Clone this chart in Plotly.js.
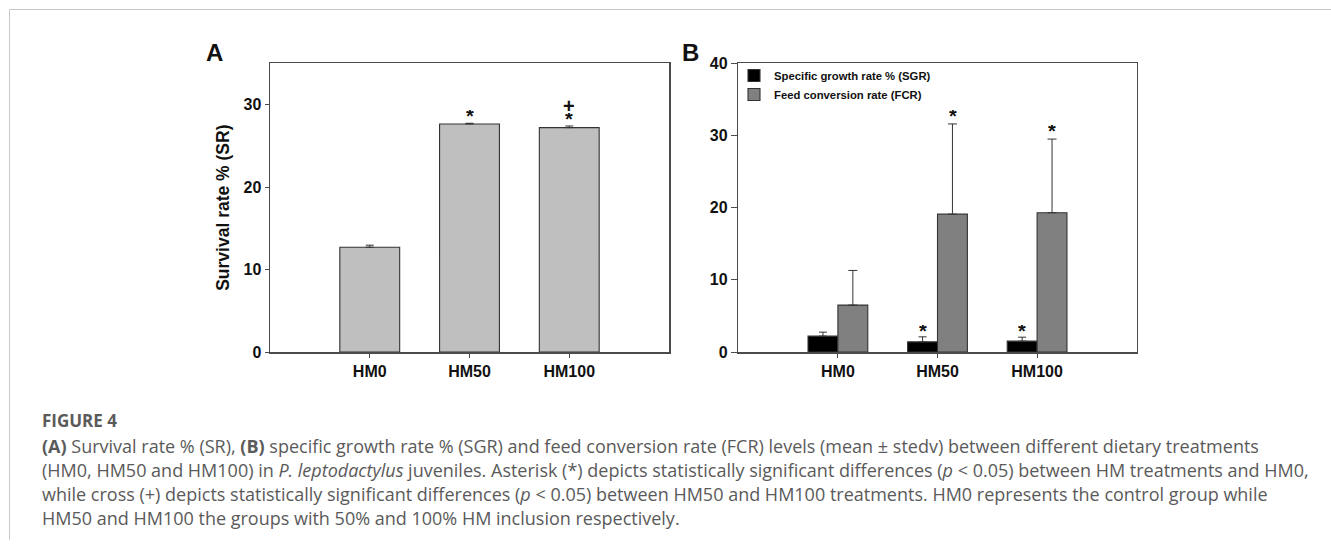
<!DOCTYPE html>
<html><head><meta charset="utf-8">
<script src="https://cdn.plot.ly/plotly-3.0.1.min.js"></script>
<style>html,body{margin:0;padding:0;background:#fff;}#chart{width:1331px;height:544px;}</style>
</head><body><div id="chart"></div>
<script>
// ---- data ----
const categories = ['HM0', 'HM50', 'HM100'];
const srMean = [12.7, 27.65, 27.2];
const srSd = [0.25, 0.08, 0.2];
const sgrMean = [2.2, 1.4, 1.5];
const sgrSd = [0.55, 0.7, 0.55];
const fcrMean = [6.5, 19.1, 19.3];
const fcrSd = [4.8, 12.5, 10.2];
const srStar = ['', '*', '*'];
const srCross = ['', '', '+'];
const sgrStar = ['', '*', '*'];
const fcrStar = ['', '*', '*'];
const yTicksA = [0, 10, 20, 30];
const yTicksB = [0, 10, 20, 30, 40];
const captionLines = [
  '<b>(A)</b> Survival rate % (SR), <b>(B)</b> specific growth rate % (SGR) and feed conversion rate (FCR) levels (mean ± stedv) between different dietary treatments',
  '(HM0, HM50 and HM100) in <i>P. leptodactylus</i> juveniles. Asterisk (*) depicts statistically significant differences (<i>p</i> &lt; 0.05) between HM treatments and HM0,',
  'while cross (+) depicts statistically significant differences (<i>p</i> &lt; 0.05) between HM50 and HM100 treatments. HM0 represents the control group while',
  'HM50 and HM100 the groups with 50% and 100% HM inclusion respectively.'
];

// ---- layout helpers ----
const W = 1331, H = 544;
const px = v => v / W;
const py = v => 1 - v / H;
const ARIAL = 'Arial, "Liberation Sans", sans-serif';
const CAP = '"Open Sans", "Noto Sans", sans-serif';
const lineCol = '#4a4a4a';
const barLine = {color: '#333', width: 1.1};

const traces = [
  {type: 'bar', x: categories, y: srMean, xaxis: 'x', yaxis: 'y', showlegend: false,
   marker: {color: '#bfbfbf', line: barLine},
   error_y: {type: 'data', symmetric: false, array: srSd, arrayminus: srSd.map(() => 0), color: '#333', thickness: 1, width: 4}},
  {type: 'bar', name: 'Specific growth rate % (SGR)', x: categories, y: sgrMean, xaxis: 'x2', yaxis: 'y2',
   marker: {color: '#000000', line: barLine},
   error_y: {type: 'data', symmetric: false, array: sgrSd, arrayminus: sgrSd.map(() => 0), color: '#333', thickness: 1, width: 4}},
  {type: 'bar', name: 'Feed conversion rate (FCR)', x: categories, y: fcrMean, xaxis: 'x2', yaxis: 'y2',
   marker: {color: '#808080', line: barLine},
   error_y: {type: 'data', symmetric: false, array: fcrSd, arrayminus: fcrSd.map(() => 0), color: '#333', thickness: 1, width: 4.5}}
];

const tickFont = {family: ARIAL, size: 16, color: '#111', weight: 'bold'};
const annotations = [];
const markFont = {family: ARIAL, size: 20, color: '#111', weight: 'bold'};
const mark = (xref, yref, x, y, text, yshift, xshift) => ({xref, yref, x, y, text, showarrow: false,
  yanchor: 'middle', yshift, xshift: xshift || 0, height: 12, borderpad: 0, font: markFont});
categories.forEach((c, i) => {
  if (srStar[i]) annotations.push(mark('x', 'y', c, srMean[i] + srSd[i], srStar[i], 7));
  if (srCross[i]) annotations.push(mark('x', 'y', c, srMean[i] + srSd[i], srCross[i], 20));
  if (sgrStar[i]) annotations.push(mark('x2', 'y2', c, sgrMean[i] + sgrSd[i], sgrStar[i], 6, -15));
  if (fcrStar[i]) annotations.push(mark('x2', 'y2', c, fcrMean[i] + fcrSd[i], fcrStar[i], 8, 15));
});
annotations.push({xref: 'paper', yref: 'paper', x: px(214), y: py(53), text: '<b>A</b>', showarrow: false, xanchor: 'center', yanchor: 'middle', font: {family: ARIAL, size: 24, color: '#111'}});
annotations.push({xref: 'paper', yref: 'paper', x: px(690), y: py(52), text: '<b>B</b>', showarrow: false, xanchor: 'center', yanchor: 'middle', font: {family: ARIAL, size: 24, color: '#111'}});
annotations.push({xref: 'paper', yref: 'paper', x: px(40), y: py(420), text: '<b>FIGURE 4</b>', showarrow: false, xanchor: 'left', yanchor: 'middle', font: {family: CAP, size: 17, color: '#5a5a5a'}});
captionLines.forEach((t, i) => {
  annotations.push({xref: 'paper', yref: 'paper', x: px(40), y: py(446 + 24 * i), text: t, showarrow: false, xanchor: 'left', yanchor: 'middle', align: 'left', font: {family: CAP, size: 18, color: '#5a5a5a'}});
});

const yDom = [py(352), py(63.3)];
const layout = {
  width: W, height: H,
  margin: {l: 0, r: 0, t: 0, b: 0},
  paper_bgcolor: '#fff', plot_bgcolor: '#fff',
  barmode: 'group', bargap: 0.4, bargroupgap: 0,
  font: {family: ARIAL},
  xaxis: {domain: [px(270), px(669)], anchor: 'y', type: 'category', range: [-1, 3],
          showline: true, linecolor: lineCol, linewidth: 1.5, mirror: true,
          ticks: 'outside', ticklen: 4, tickcolor: lineCol, tickfont: tickFont, showgrid: false, zeroline: false},
  yaxis: {domain: yDom, anchor: 'x', range: [0, 35], tickvals: yTicksA,
          showline: true, linecolor: lineCol, linewidth: 1.5, mirror: true,
          ticks: 'outside', ticklen: 4, tickcolor: lineCol, tickfont: tickFont, showgrid: false, zeroline: false,
          title: {text: 'Survival rate % (SR)', font: {family: ARIAL, size: 17.5, color: '#111', weight: 'bold'}, standoff: 9}},
  xaxis2: {domain: [px(738.3), px(1136.7)], anchor: 'y2', type: 'category', range: [-1, 3],
          showline: true, linecolor: lineCol, linewidth: 1.5, mirror: true,
          ticks: 'outside', ticklen: 4, tickcolor: lineCol, tickfont: tickFont, showgrid: false, zeroline: false},
  yaxis2: {domain: yDom, anchor: 'x2', range: [0, 40], tickvals: yTicksB,
          showline: true, linecolor: lineCol, linewidth: 1.5, mirror: true,
          ticks: 'outside', ticklen: 6, tickcolor: lineCol, tickfont: tickFont, showgrid: false, zeroline: false},
  legend: {x: px(734), y: py(61), xanchor: 'left', yanchor: 'top', bgcolor: 'rgba(0,0,0,0)',
           font: {family: ARIAL, size: 11.3, color: '#111', weight: 'bold'}, itemwidth: 30, tracegroupgap: 0},
  annotations: annotations,
  shapes: [
    {type: 'line', xref: 'paper', yref: 'paper', x0: px(9.5), x1: 1, y0: py(9.5), y1: py(9.5), line: {color: '#c8c8c8', width: 1}},
    {type: 'line', xref: 'paper', yref: 'paper', x0: px(9.5), x1: px(9.5), y0: py(9.5), y1: py(540), line: {color: '#c8c8c8', width: 1}}
  ]
};
Plotly.newPlot('chart', traces, layout, {displayModeBar: false, staticPlot: true});
</script>
</body></html>
